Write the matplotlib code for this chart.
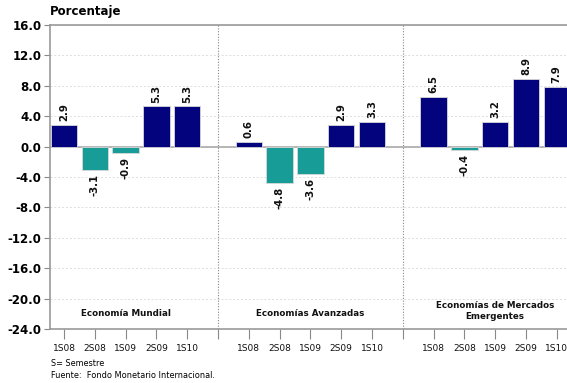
import matplotlib
matplotlib.use("Agg")
import matplotlib.pyplot as plt
import numpy as np

# Data: semiannual growth by economic group (percent)
periods = ["1S08", "2S08", "1S09", "2S09", "1S10"]
groups = ["Economía Mundial", "Economías Avanzadas", "Economías de Mercados\nEmergentes"]
mundial = [2.9, -3.1, -0.9, 5.3, 5.3]
avanzadas = [0.6, -4.8, -3.6, 2.9, 3.3]
emergentes = [6.5, -0.4, 3.2, 8.9, 7.9]
yticks = [16.0, 12.0, 8.0, 4.0, 0.0, -4.0, -8.0, -12.0, -16.0, -20.0, -24.0]

series = [mundial, avanzadas, emergentes]
pos_color = "#03037e"
neg_color = "#189c98"

fig = plt.figure(figsize=(5.67, 3.83), dpi=100)
W, H = 567, 383
ax = fig.add_axes([50 / W, 1 - 329 / H, 1 - 50 / W, (329 - 25) / H])

step = len(periods) + 1
xpos_all, xlab_all = [], []
for g, vals in enumerate(series):
    x = np.arange(len(vals)) + g * step
    colors = [pos_color if v >= 0 else neg_color for v in vals]
    ax.bar(x, vals, width=0.86, color=colors, edgecolor="#d8d8d8", linewidth=0.6, zorder=3)
    for xi, v in zip(x, vals):
        off = 0.5 if v >= 0 else -0.5
        ax.text(xi, v + off, f"{v:.1f}", rotation=90, ha="center",
                va="bottom" if v >= 0 else "top", fontsize=7.3, fontweight="bold",
                color="#111111", zorder=4)
    xpos_all += list(x)
    xlab_all += periods
    two_lines = "\n" in groups[g]
    ax.text(x.mean(), -21.6 if two_lines else -21.9, groups[g],
            ha="center", va="center", fontsize=6.3, fontweight="bold",
            color="#111111", linespacing=1.35)

# group separators
seps = [step - 1, 2 * step - 1]
for s in seps:
    ax.axvline(s, color="#888888", linestyle=(0, (1, 1.5)), linewidth=0.8, zorder=2)

ax.set_xlim(-0.455, 16.33)
ax.set_ylim(-24, 16)
ax.set_yticks(yticks)
ax.set_yticklabels([f"{t:.1f}" for t in yticks], fontsize=8.5, fontweight="bold")
ax.yaxis.grid(True, color="#dddddd", linestyle=(0, (2, 2)), linewidth=0.7, zorder=0)
ax.axhline(0, color="#aaaaaa", linewidth=1.2, zorder=2)

ax.set_xticks(list(xpos_all) + seps)
ax.set_xticklabels(xlab_all + ["", ""], fontsize=6.5, color="#111111")
ax.tick_params(axis="x", length=7, width=0.8, color="#888888", pad=4)
ax.tick_params(axis="y", length=4, width=0.8, color="#888888", pad=2)

for side in ["left", "top", "bottom"]:
    ax.spines[side].set_color("#999999")
    ax.spines[side].set_linewidth(1.2)
ax.spines["right"].set_visible(False)

fig.text(50 / W, 1 - 12 / H, "Porcentaje", fontsize=8.5, fontweight="bold",
         va="center", ha="left")
fig.text(51 / W, 1 - 364 / H, "S= Semestre", fontsize=5.9, va="center", ha="left")
fig.text(51 / W, 1 - 376 / H, "Fuente:  Fondo Monetario Internacional.", fontsize=5.9,
         va="center", ha="left")

fig.savefig("out.png", dpi=100)
